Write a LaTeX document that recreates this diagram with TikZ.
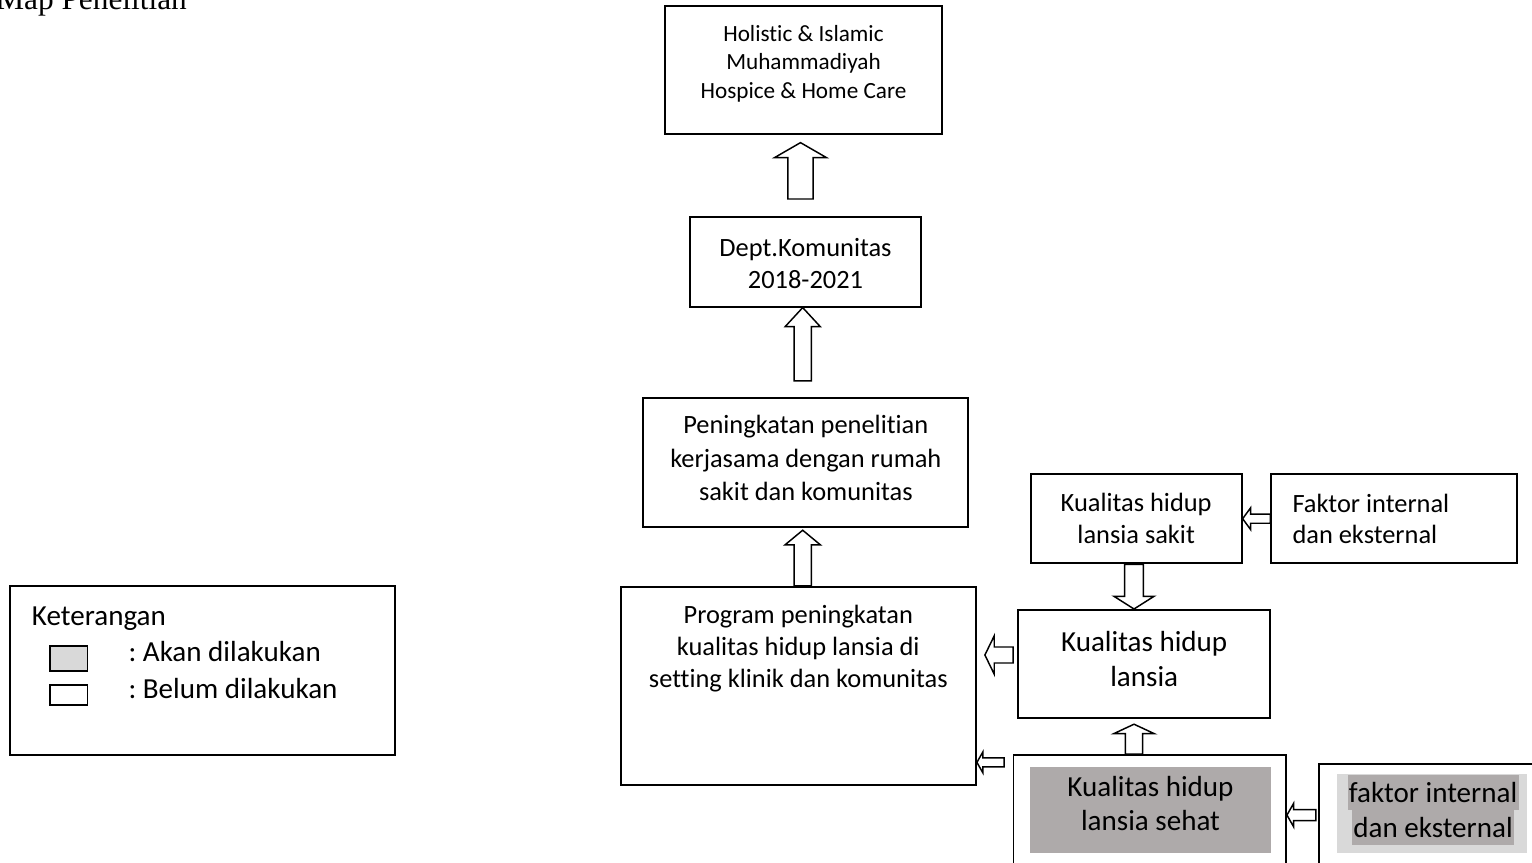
\documentclass[tikz,border=0pt]{standalone}
\usepackage{fontspec}
\setmainfont{Carlito}[Ligatures=NoCommon]
\newfontfamily\titlefont{Liberation Serif}
\usetikzlibrary{calc,positioning}
\definecolor{mpshade}{HTML}{AEAAAA}
\definecolor{mplight}{HTML}{D9D9D9}
\frenchspacing
\newcommand{\mapfontS}{\fontsize{17.4}{21.5}\selectfont}
\newcommand{\mapfontM}{\fontsize{19.8}{24.2}\selectfont}
\newcommand{\mapfontL}{\fontsize{21.8}{26.6}\selectfont}
\newcommand{\hilite}[1]{\colorbox{mpshade}{\rule[-5.5pt]{0pt}{26.5pt}\hspace{1pt}#1\hspace{1pt}}}
% text block hung from the top of a box: height, width, top gap, lines
\newcommand{\toptext}[4]{\parbox[c][#1][t]{#2}{\centering\vspace*{#3}\strut #4}}
% hollow block arrow: tail, tip, half shaft, half head, head length
\newcommand{\blockarrow}[5]{%
  \path ($(#2)!#5!(#1)$) coordinate (neck);
  \draw[hollow] ($(#1)!#3!90:(#2)$) -- ($(neck)!#3!90:(#2)$) -- ($(neck)!#4!90:(#2)$)
    -- (#2) -- ($(neck)!#4!-90:(#2)$) -- ($(neck)!#3!-90:(#2)$) -- ($(#1)!#3!-90:(#2)$) -- cycle;}
\tikzset{
  mapbox/.style={draw,line width=1.4pt,fill=white,align=center,inner sep=0pt},
  hollow/.style={draw,line width=1.1pt,fill=white,line join=miter},
  swatch/.style={draw,line width=1.2pt,fill=white,minimum width=28pt,inner sep=0pt},
  legtext/.style={anchor=base west,inner sep=0pt,font=\mapfontL}
}
\begin{document}
\begin{tikzpicture}[x=0.75pt,y=-0.75pt]
  \path[use as bounding box,fill=white] (0,0) rectangle (1532,863);
  \node[anchor=base west,inner sep=0pt,font=\titlefont\fontsize{23.5}{28}\selectfont] (title) at (-4,10) {Map Penelitian};

  % main column
  \node[mapbox,font=\mapfontS,minimum width=207.75pt,minimum height=96pt] (holistic) at (803.5,70)
    {\toptext{96pt}{207.75pt}{11.25pt}{Holistic \& Islamic\\Muhammadiyah\\Hospice \& Home Care}};
  \node[mapbox,font=\fontsize{19.8}{24}\selectfont,minimum width=173.25pt,minimum height=67.3pt] (dept) at (805.5,261.8)
    {\toptext{67.3pt}{173.25pt}{13pt}{Dept.Komunitas\\2018-2021}};
  \node[mapbox,font=\fontsize{19.8}{25}\selectfont,minimum width=243.75pt,minimum height=96.75pt] (peningkatan) at (805.8,462.2)
    {\toptext{96.75pt}{243.75pt}{9.5pt}{Peningkatan penelitian\\kerjasama dengan rumah\\sakit dan komunitas}};
  \node[mapbox,font=\mapfontM,minimum width=266.5pt,minimum height=148.7pt] (program) at (798.3,685.8)
    {\toptext{148.7pt}{266.5pt}{10.5pt}{Program peningkatan\\kualitas hidup lansia di\\setting klinik dan komunitas}};

  % right side
  \node[mapbox,font=\mapfontM,minimum width=158.25pt,minimum height=67pt] (sakit) at (1136.2,518.7)
    {Kualitas hidup\\lansia sakit};
  \node[mapbox,font=\fontsize{19.8}{23.25}\selectfont,align=flush left,text width=152.4pt,inner xsep=16pt,
    minimum height=67pt,right=20.7pt of sakit] (faktor) {Faktor internal\\dan eksternal};
  \node[mapbox,font=\fontsize{21.8}{26.25}\selectfont,minimum width=188.8pt,minimum height=80.8pt] (lansia) at (1144.2,663.8)
    {\toptext{80.8pt}{188.8pt}{12.6pt}{Kualitas hidup\\lansia}};
  \node[mapbox,minimum width=204.4pt,minimum height=97.5pt] (sehatbox) at (1149.75,820) {};
  \node[fill=mpshade,inner sep=0pt,font=\fontsize{21.8}{25}\selectfont,minimum width=180.75pt,minimum height=64.7pt] (sehat) at (1150.5,810.2)
    {\toptext{64.7pt}{180.75pt}{4.7pt}{Kualitas hidup\\lansia sehat}};
  \node[mapbox,minimum width=173pt,minimum height=90.75pt] (faktorsehat) at (1434.65,824.5) {};
  \node[fill=mplight,inner sep=0pt,minimum width=142.5pt,minimum height=59.25pt] (faktorbg) at (1431.7,813.8) {};
  \node[anchor=north,inner sep=0pt,align=center,font=\fontsize{21.8}{26.5}\selectfont\setlength{\fboxsep}{0pt}] (faktortext) at (1433,774.3)
    {\hilite{faktor internal}\\\hilite{dan eksternal}};

  % legend
  \node[mapbox,minimum width=288.75pt,minimum height=126.75pt] (legend) at (202.5,670.5) {};
  \node[legtext] (keterangan) at (31.7,625) {Keterangan};
  \node[swatch,fill=mplight,minimum height=18.5pt] (akan) at (68.7,658.4) {};
  \node[swatch,minimum height=15pt] (belum) at (68.7,695) {};
  \node[legtext] (akantext) at (128.3,661.7) {: Akan dilakukan};
  \node[legtext] (belumtext) at (128.3,698.3) {: Belum dilakukan};

  % block arrows
  \coordinate (p1) at ($(dept.north)+(-5,-17)$);
  \coordinate (q1) at ($(holistic.south)+(-3,7.7)$);
  \blockarrow{p1}{q1}{9.4pt}{19.4pt}{11.2pt}
  \coordinate (p2) at ($(peningkatan.north)+(-3.1,-16)$);
  \coordinate (q2) at ($(dept.south)+(-2.8,0)$);
  \blockarrow{p2}{q2}{6.5pt}{13.1pt}{14.2pt}
  \coordinate (p3) at ($(program.north)+(4.4,0)$);
  \coordinate (q3) at ($(peningkatan.south)+(-3.1,2.6)$);
  \blockarrow{p3}{q3}{6.5pt}{13.3pt}{11pt}
  \coordinate (p4) at ($(sakit.south)+(-2.2,0)$);
  \coordinate (q4) at (p4 |- lansia.north);
  \blockarrow{p4}{q4}{7.1pt}{15pt}{9.5pt}
  \blockarrow{faktor.west}{sakit.east}{3.4pt}{8.2pt}{6pt}
  \coordinate (p6) at ($(lansia.west)+(-4.3,-8.8)$);
  \coordinate (q6) at ($(program.east |- p6)+(8,0)$);
  \blockarrow{p6}{q6}{6pt}{14.4pt}{7pt}
  \coordinate (p7) at ($(sehatbox.north west)+(-8.5,8.3)$);
  \coordinate (q7) at (program.east |- p7);
  \blockarrow{p7}{q7}{3.4pt}{7.9pt}{4.5pt}
  \coordinate (p8) at (p4 |- sehatbox.north);
  \coordinate (q8) at ($(p4 |- lansia.south)+(0,5.6)$);
  \blockarrow{p8}{q8}{6.4pt}{15pt}{7pt}
  \coordinate (p9) at ($(faktorsehat.north west)+(-2.6,52)$);
  \coordinate (q9) at (sehatbox.east |- p9);
  \blockarrow{p9}{q9}{4.1pt}{8.8pt}{5pt}
\end{tikzpicture}
\end{document}
